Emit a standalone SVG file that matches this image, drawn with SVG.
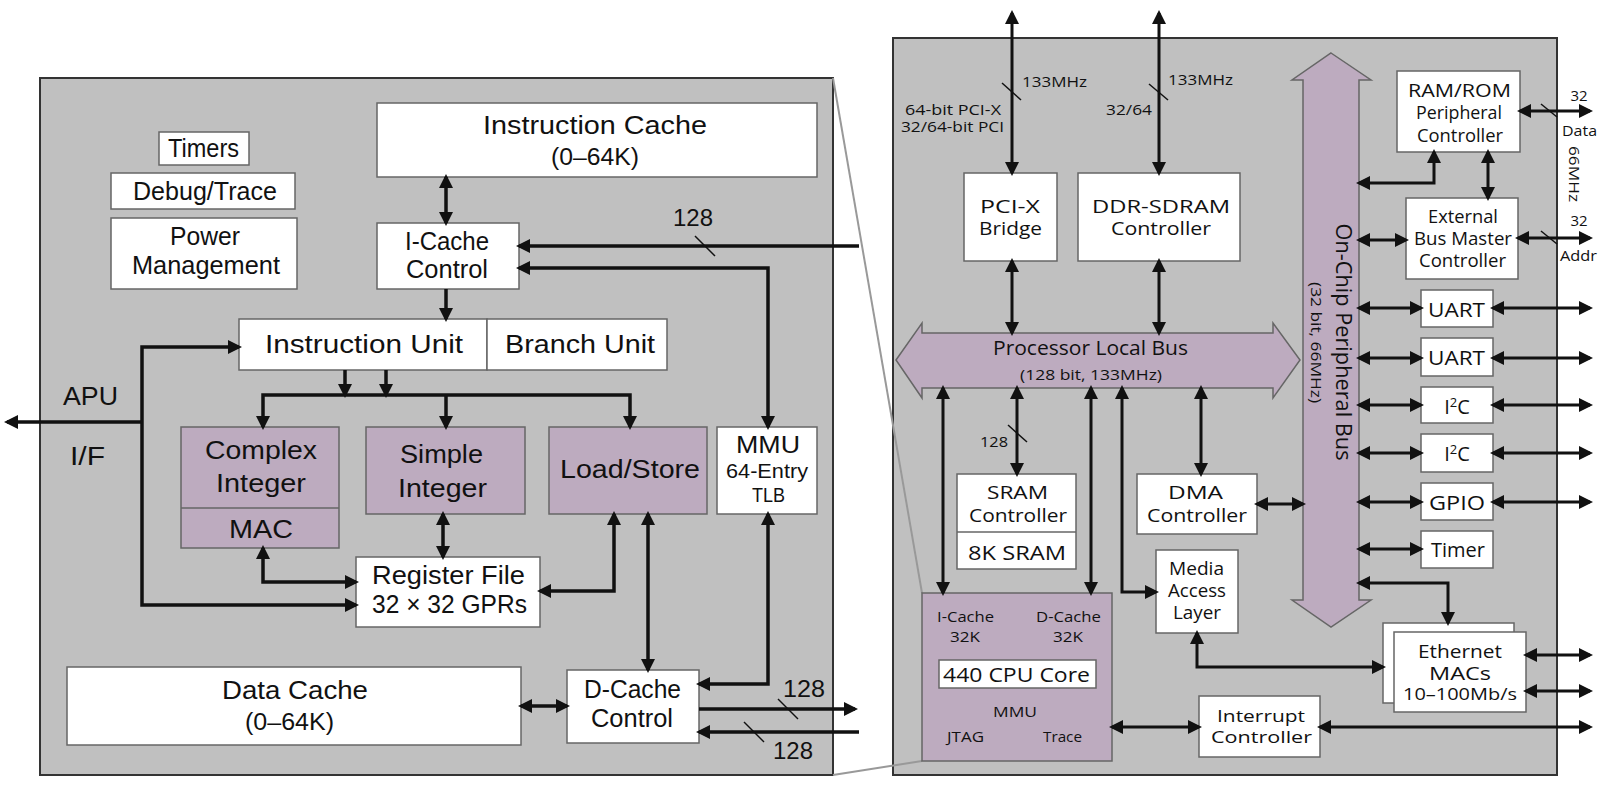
<svg xmlns="http://www.w3.org/2000/svg" width="1600" height="790" viewBox="0 0 1600 790">
<defs>
<marker id="h" viewBox="0 0 14 14" refX="11" refY="7" markerWidth="14" markerHeight="14" markerUnits="userSpaceOnUse" orient="auto-start-reverse"><path d="M0,0 L14,7 L0,14 z" fill="#111"/></marker>
<style>
.pl{fill:#c0c0c0;stroke:#333;stroke-width:2}
.bx{fill:#fff;stroke:#666;stroke-width:1.5}
.pu{fill:#bdabbf;stroke:#666;stroke-width:1.5}
.L{font-family:'Liberation Sans',Arial,sans-serif;font-size:26px;fill:#111;text-anchor:middle}
.R{font-family:'Open Sans','Noto Sans',sans-serif;font-size:18.5px;fill:#111;text-anchor:middle}
.w{fill:none;stroke:#111;stroke-width:3.5}
.v{fill:none;stroke:#111;stroke-width:3}
.d{marker-start:url(#h);marker-end:url(#h)}
.e{marker-end:url(#h)}
.tk{stroke:#111;stroke-width:1.5}
.zl{stroke:#999;stroke-width:2;fill:none}
</style>
</defs>
<rect id="core-panel" class="pl" x="40" y="78" width="793" height="697"/>
<rect id="soc-panel" class="pl" x="893" y="38" width="664" height="737"/>
<g id="zoom-lines"><line class="zl" x1="833" y1="78" x2="922" y2="593"/><line class="zl" x1="833" y1="775" x2="922" y2="761"/></g>

<g id="timers"><rect class="bx" x="159" y="132" width="90" height="33"/><text class="L" x="203.5" y="157" textLength="71" lengthAdjust="spacingAndGlyphs">Timers</text></g>
<g id="debug"><rect class="bx" x="111" y="173" width="184" height="36"/><text class="L" x="205" y="200" textLength="144" lengthAdjust="spacingAndGlyphs">Debug/Trace</text></g>
<g id="power"><rect class="bx" x="111" y="218" width="186" height="71"/><text class="L" x="205" y="245" style="font-size:25px" textLength="70" lengthAdjust="spacingAndGlyphs">Power</text><text class="L" x="206" y="274" style="font-size:25px" textLength="148" lengthAdjust="spacingAndGlyphs">Management</text></g>
<g id="icache"><rect class="bx" x="377" y="103" width="440" height="74"/><text class="L" x="595" y="134" textLength="224" lengthAdjust="spacingAndGlyphs">Instruction Cache</text><text class="L" x="595" y="165" style="font-size:23px" textLength="88" lengthAdjust="spacingAndGlyphs">(0–64K)</text></g>
<g id="icctl"><rect class="bx" x="377" y="223" width="142" height="66"/><text class="L" x="447" y="250" style="font-size:25px" textLength="84" lengthAdjust="spacingAndGlyphs">I-Cache</text><text class="L" x="447" y="278" style="font-size:25px" textLength="82" lengthAdjust="spacingAndGlyphs">Control</text></g>
<g id="iunit"><rect class="bx" x="239" y="319" width="248" height="51"/><text class="L" x="364" y="353" textLength="198" lengthAdjust="spacingAndGlyphs">Instruction Unit</text></g>
<g id="bunit"><rect class="bx" x="487" y="319" width="180" height="51"/><text class="L" x="580" y="353" textLength="150" lengthAdjust="spacingAndGlyphs">Branch Unit</text></g>
<g id="apu"><text class="L" x="90.5" y="405" textLength="55" lengthAdjust="spacingAndGlyphs">APU</text><text class="L" x="87.5" y="465" textLength="35" lengthAdjust="spacingAndGlyphs">I/F</text></g>
<g id="complex"><rect class="pu" x="181" y="427" width="158" height="121"/><line x1="181" y1="508" x2="339" y2="508" stroke="#666" stroke-width="1.5"/><text class="L" x="261" y="459" textLength="112" lengthAdjust="spacingAndGlyphs">Complex</text><text class="L" x="261" y="492" textLength="90" lengthAdjust="spacingAndGlyphs">Integer</text><text class="L" x="261" y="538" textLength="64" lengthAdjust="spacingAndGlyphs">MAC</text></g>
<g id="simple"><rect class="pu" x="366" y="427" width="159" height="87"/><text class="L" x="441.5" y="463" textLength="83" lengthAdjust="spacingAndGlyphs">Simple</text><text class="L" x="442.5" y="497" textLength="89" lengthAdjust="spacingAndGlyphs">Integer</text></g>
<g id="loadstore"><rect class="pu" x="549" y="427" width="158" height="87"/><text class="L" x="630" y="478" textLength="140" lengthAdjust="spacingAndGlyphs">Load/Store</text></g>
<g id="mmu"><rect class="bx" x="717" y="427" width="100" height="87"/><text class="L" x="768" y="453" style="font-size:24px" textLength="64" lengthAdjust="spacingAndGlyphs">MMU</text><text class="L" x="767" y="478" style="font-size:21px" textLength="82" lengthAdjust="spacingAndGlyphs">64-Entry</text><text class="L" x="768.5" y="502" style="font-size:21px" textLength="33" lengthAdjust="spacingAndGlyphs">TLB</text></g>
<g id="regfile"><rect class="bx" x="356" y="557" width="184" height="70"/><text class="L" x="448.5" y="584" style="font-size:25px" textLength="153" lengthAdjust="spacingAndGlyphs">Register File</text><text class="L" x="449.5" y="613" style="font-size:25px" textLength="155" lengthAdjust="spacingAndGlyphs">32 × 32 GPRs</text></g>
<g id="dcache"><rect class="bx" x="67" y="667" width="454" height="78"/><text class="L" x="295" y="699" textLength="146" lengthAdjust="spacingAndGlyphs">Data Cache</text><text class="L" x="289.5" y="730" style="font-size:23px" textLength="89" lengthAdjust="spacingAndGlyphs">(0–64K)</text></g>
<g id="dcctl"><rect class="bx" x="567" y="670" width="132" height="73"/><text class="L" x="632.5" y="698" style="font-size:25px" textLength="97" lengthAdjust="spacingAndGlyphs">D-Cache</text><text class="L" x="632" y="727" style="font-size:25px" textLength="82" lengthAdjust="spacingAndGlyphs">Control</text></g>

<g id="pcix"><rect class="bx" x="964" y="173" width="93" height="88"/><text class="R" x="1010" y="213" style="font-size:17.5px" textLength="60" lengthAdjust="spacingAndGlyphs">PCI-X</text><text class="R" x="1010.5" y="235" style="font-size:17.5px" textLength="63" lengthAdjust="spacingAndGlyphs">Bridge</text></g>
<g id="ddr"><rect class="bx" x="1078" y="173" width="162" height="88"/><text class="R" x="1161" y="213" style="font-size:17.5px" textLength="138" lengthAdjust="spacingAndGlyphs">DDR-SDRAM</text><text class="R" x="1161" y="235" style="font-size:17.5px" textLength="100" lengthAdjust="spacingAndGlyphs">Controller</text></g>
<g id="plb"><polygon class="pu" points="896,360 922,323 922,333 1273,333 1273,323 1300,360 1273,398 1273,388 922,388 922,398"/><text class="R" x="1090.5" y="355" style="font-size:20px" textLength="195" lengthAdjust="spacingAndGlyphs">Processor Local Bus</text><text class="R" x="1091" y="380" style="font-size:15px" textLength="142" lengthAdjust="spacingAndGlyphs">(128 bit, 133MHz)</text></g>
<g id="opb"><polygon class="pu" points="1331,53 1371,80 1359,80 1359,600 1371,600 1331,627 1292,600 1303,600 1303,80 1292,80"/><text class="R" transform="translate(1336,342) rotate(90)" style="font-size:22px" textLength="237" lengthAdjust="spacingAndGlyphs">On-Chip Peripheral Bus</text><text class="R" transform="translate(1311,342.5) rotate(90)" style="font-size:14px" textLength="121" lengthAdjust="spacingAndGlyphs">(32 bit, 66MHz)</text></g>
<g id="ramrom"><rect class="bx" x="1397" y="71" width="123" height="81"/><text class="R" x="1459.5" y="97" textLength="103" lengthAdjust="spacingAndGlyphs">RAM/ROM</text><text class="R" x="1459" y="119" textLength="86" lengthAdjust="spacingAndGlyphs">Peripheral</text><text class="R" x="1460" y="142" textLength="86" lengthAdjust="spacingAndGlyphs">Controller</text></g>
<g id="ebmc"><rect class="bx" x="1406" y="198" width="112" height="81"/><text class="R" x="1463" y="223" textLength="70" lengthAdjust="spacingAndGlyphs">External</text><text class="R" x="1463" y="245" textLength="98" lengthAdjust="spacingAndGlyphs">Bus Master</text><text class="R" x="1462.5" y="267" textLength="87" lengthAdjust="spacingAndGlyphs">Controller</text></g>
<g id="uart1"><rect class="bx" x="1421" y="290" width="72" height="37"/><text class="R" x="1456.5" y="317" style="font-size:20px" textLength="57" lengthAdjust="spacingAndGlyphs">UART</text></g>
<g id="uart2"><rect class="bx" x="1421" y="338" width="72" height="38"/><text class="R" x="1456.5" y="365" style="font-size:20px" textLength="57" lengthAdjust="spacingAndGlyphs">UART</text></g>
<g id="i2c1"><rect class="bx" x="1421" y="387" width="72" height="36"/><text class="R" x="1457" y="414" style="font-size:20px">I<tspan dy="-7" style="font-size:13px">2</tspan><tspan dy="7">C</tspan></text></g>
<g id="i2c2"><rect class="bx" x="1421" y="434" width="72" height="38"/><text class="R" x="1457" y="461" style="font-size:20px">I<tspan dy="-7" style="font-size:13px">2</tspan><tspan dy="7">C</tspan></text></g>
<g id="gpio"><rect class="bx" x="1421" y="483" width="72" height="37"/><text class="R" x="1457" y="510" style="font-size:20px" textLength="56" lengthAdjust="spacingAndGlyphs">GPIO</text></g>
<g id="timer"><rect class="bx" x="1421" y="531" width="72" height="37"/><text class="R" x="1458" y="557" style="font-size:20px" textLength="54" lengthAdjust="spacingAndGlyphs">Timer</text></g>
<g id="ethernet"><rect class="bx" x="1383" y="623" width="131" height="80"/><rect class="bx" x="1394" y="632" width="132" height="80"/><text class="R" x="1460" y="658" textLength="84" lengthAdjust="spacingAndGlyphs">Ethernet</text><text class="R" x="1460" y="680" textLength="62" lengthAdjust="spacingAndGlyphs">MACs</text><text class="R" x="1460" y="700" style="font-size:16.5px" textLength="114" lengthAdjust="spacingAndGlyphs">10–100Mb/s</text></g>
<g id="intc"><rect class="bx" x="1199" y="696" width="121" height="61"/><text class="R" x="1261" y="722" style="font-size:17px" textLength="88" lengthAdjust="spacingAndGlyphs">Interrupt</text><text class="R" x="1261.5" y="743" style="font-size:17px" textLength="101" lengthAdjust="spacingAndGlyphs">Controller</text></g>
<g id="dma"><rect class="bx" x="1137" y="474" width="120" height="60"/><text class="R" x="1195.5" y="499" style="font-size:18px" textLength="55" lengthAdjust="spacingAndGlyphs">DMA</text><text class="R" x="1197" y="522" style="font-size:18px" textLength="100" lengthAdjust="spacingAndGlyphs">Controller</text></g>
<g id="mal"><rect class="bx" x="1156" y="550" width="82" height="83"/><text class="R" x="1196.5" y="575" style="font-size:18px" textLength="55" lengthAdjust="spacingAndGlyphs">Media</text><text class="R" x="1197" y="597" style="font-size:18px" textLength="58" lengthAdjust="spacingAndGlyphs">Access</text><text class="R" x="1197" y="619" style="font-size:18px" textLength="48" lengthAdjust="spacingAndGlyphs">Layer</text></g>
<g id="sram"><rect class="bx" x="957" y="474" width="119" height="95"/><line x1="957" y1="532" x2="1076" y2="532" stroke="#666" stroke-width="1.5"/><text class="R" x="1017.5" y="499" textLength="61" lengthAdjust="spacingAndGlyphs">SRAM</text><text class="R" x="1018" y="522" textLength="98" lengthAdjust="spacingAndGlyphs">Controller</text><text class="R" x="1017" y="560" style="font-size:20px" textLength="98" lengthAdjust="spacingAndGlyphs">8K SRAM</text></g>
<g id="cpu"><rect class="pu" x="922" y="593" width="190" height="168"/><text class="R" x="965.5" y="622" style="font-size:14.5px" textLength="57" lengthAdjust="spacingAndGlyphs">I-Cache</text><text class="R" x="965" y="642" style="font-size:14.5px" textLength="30" lengthAdjust="spacingAndGlyphs">32K</text><text class="R" x="1068.5" y="622" style="font-size:14.5px" textLength="65" lengthAdjust="spacingAndGlyphs">D-Cache</text><text class="R" x="1068" y="642" style="font-size:14.5px" textLength="30" lengthAdjust="spacingAndGlyphs">32K</text><rect class="bx" x="939" y="660" width="157" height="28"/><text class="R" x="1016.5" y="682" style="font-size:20px" textLength="147" lengthAdjust="spacingAndGlyphs">440 CPU Core</text><text class="R" x="1015" y="717" style="font-size:14.5px" textLength="44" lengthAdjust="spacingAndGlyphs">MMU</text><text class="R" x="965.5" y="742" style="font-size:14.5px" textLength="37" lengthAdjust="spacingAndGlyphs">JTAG</text><text class="R" x="1062.5" y="742" style="font-size:14.5px" textLength="39" lengthAdjust="spacingAndGlyphs">Trace</text></g>

<g id="connectors">
<path class="w d" d="M446,177 V223"/>
<path class="w e" d="M446,289 V319"/>
<path class="w e" d="M859,246 H519"/>
<line class="tk" x1="695" y1="236" x2="715" y2="256"/>
<text class="L" x="693" y="226" style="font-size:23px" textLength="40" lengthAdjust="spacingAndGlyphs">128</text>
<path class="w d" d="M519,268 H768 V427"/>
<path class="w e" d="M345,370 V395"/>
<path class="w e" d="M386,370 V395"/>
<path class="w d" d="M263,427 V395 H630 V427"/>
<path class="w e" d="M446,395 V427"/>
<path class="w d" d="M443,514 V557"/>
<path class="w d" d="M263,548 V582 H356"/>
<path class="w d" d="M239,347 H142 V605 H356"/>
<path class="w e" d="M142,422 H7"/>
<path class="w d" d="M614,514 V591 H540"/>
<path class="w d" d="M648,514 V670"/>
<path class="w d" d="M768,514 V684 H699"/>
<path class="w d" d="M521,706 H567"/>
<path class="w e" d="M699,709 H855"/>
<path class="w e" d="M859,732 H699"/>
<line class="tk" x1="778" y1="699" x2="798" y2="719"/>
<line class="tk" x1="744" y1="722" x2="764" y2="742"/>
<text class="L" x="804" y="697" style="font-size:23px" textLength="42" lengthAdjust="spacingAndGlyphs">128</text>
<text class="L" x="793" y="759" style="font-size:23px" textLength="40" lengthAdjust="spacingAndGlyphs">128</text>

<path class="v d" d="M1012,13 V173"/>
<path class="v d" d="M1159,13 V173"/>
<line class="tk" x1="1002" y1="83" x2="1021" y2="100"/>
<line class="tk" x1="1149" y1="84" x2="1168" y2="100"/>
<text class="R" x="1054.5" y="87" style="font-size:15px" textLength="65" lengthAdjust="spacingAndGlyphs">133MHz</text>
<text class="R" x="1200.5" y="85" style="font-size:15px" textLength="65" lengthAdjust="spacingAndGlyphs">133MHz</text>
<text class="R" x="953" y="115" style="font-size:14.5px" textLength="96" lengthAdjust="spacingAndGlyphs">64-bit PCI-X</text>
<text class="R" x="952.5" y="132" style="font-size:14.5px" textLength="103" lengthAdjust="spacingAndGlyphs">32/64-bit PCI</text>
<text class="R" x="1129" y="115" style="font-size:15px" textLength="46" lengthAdjust="spacingAndGlyphs">32/64</text>
<path class="v d" d="M1012,261 V333"/>
<path class="v d" d="M1159,261 V333"/>
<path class="v d" d="M943,388 V593"/>
<path class="v d" d="M1017,388 V474"/>
<line class="tk" x1="1008" y1="425" x2="1027" y2="442"/>
<text class="R" x="994" y="447" style="font-size:14.5px" textLength="28" lengthAdjust="spacingAndGlyphs">128</text>
<path class="v d" d="M1091,388 V593"/>
<path class="v d" d="M1122,388 V592 H1156"/>
<path class="v d" d="M1201,388 V474"/>
<path class="v d" d="M1257,504 H1303"/>
<path class="v d" d="M1359,183 H1434 V152"/>
<path class="v d" d="M1488,152 V198"/>
<path class="v d" d="M1359,240 H1406"/>
<path class="v d" d="M1520,111 H1590"/>
<path class="v d" d="M1518,238 H1590"/>
<line class="tk" x1="1541" y1="104" x2="1557" y2="117"/>
<line class="tk" x1="1541" y1="231" x2="1557" y2="244"/>
<text class="R" x="1579" y="101" style="font-size:15px">32</text>
<text class="R" x="1579.5" y="136" style="font-size:15px" textLength="35" lengthAdjust="spacingAndGlyphs">Data</text>
<text class="R" x="1579" y="226" style="font-size:15px">32</text>
<text class="R" x="1578.5" y="261" style="font-size:15px" textLength="37" lengthAdjust="spacingAndGlyphs">Addr</text>
<text class="R" transform="translate(1569,174) rotate(90)" style="font-size:15px" textLength="56" lengthAdjust="spacingAndGlyphs">66MHz</text>
<path class="v d" d="M1359,308 H1421"/>
<path class="v d" d="M1493,308 H1590"/>
<path class="v d" d="M1359,358 H1421"/>
<path class="v d" d="M1493,358 H1590"/>
<path class="v d" d="M1359,405 H1421"/>
<path class="v d" d="M1493,405 H1590"/>
<path class="v d" d="M1359,453 H1421"/>
<path class="v d" d="M1493,453 H1590"/>
<path class="v d" d="M1359,502 H1421"/>
<path class="v d" d="M1493,502 H1590"/>
<path class="v d" d="M1359,549 H1421"/>
<path class="v d" d="M1359,583 H1448 V623"/>
<path class="v d" d="M1197,633 V667 H1383"/>
<path class="v d" d="M1526,655 H1590"/>
<path class="v d" d="M1526,691 H1590"/>
<path class="v d" d="M1112,727 H1199"/>
<path class="v d" d="M1320,727 H1590"/>
</g>
</svg>
